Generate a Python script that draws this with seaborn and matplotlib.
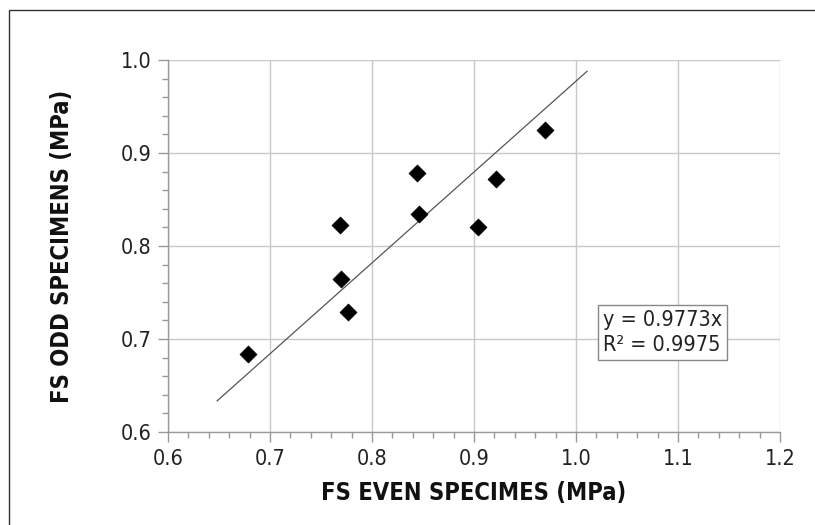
import numpy as np
import pandas as pd
import matplotlib
matplotlib.use('Agg')
import matplotlib.pyplot as plt
from matplotlib.patches import Rectangle
from matplotlib.ticker import MultipleLocator
import seaborn as sns

# values
fs_even = [0.678, 0.769, 0.770, 0.776, 0.844, 0.846, 0.904, 0.922, 0.970]
fs_odd = [0.684, 0.823, 0.765, 0.729, 0.879, 0.834, 0.820, 0.872, 0.925]
trend_slope = 0.9773
trend_r2 = 0.9975
trend_x = [0.648, 1.011]
x_ticks = [0.6, 0.7, 0.8, 0.9, 1.0, 1.1, 1.2]
y_ticks = [0.6, 0.7, 0.8, 0.9, 1.0]

df = pd.DataFrame({'even': fs_even, 'odd': fs_odd})

sns.set_style('white')
plt.rcParams['font.family'] = ['DejaVu Sans']
plt.rcParams['font.stretch'] = 'condensed'

fig = plt.figure(figsize=(8.15, 5.25), dpi=100)
ax = fig.add_axes([168 / 815, 1 - 432 / 525, (780 - 168) / 815, (432 - 60) / 525])

# outer frame of the picture
fig.patches.append(Rectangle((9 / 815, -0.1), 1.2, 1 - 10 / 525 + 0.1, transform=fig.transFigure,
                             fill=False, edgecolor='#333333', linewidth=1.0))

grid_col = '#c8c8c8'
for xv in x_ticks:
    ax.axvline(xv, color=grid_col, linewidth=1.0, zorder=0)
for yv in y_ticks:
    ax.axhline(yv, color=grid_col, linewidth=1.0, zorder=0)

# trendline through the origin
tx = np.array(trend_x)
ax.plot(tx, trend_slope * tx, color='#555555', linewidth=0.9, zorder=2)

sns.scatterplot(data=df, x='even', y='odd', marker='D', color='black', s=75,
                edgecolor='black', linewidth=0.5, ax=ax, zorder=3)

ax.set_xlim(0.6, 1.2)
ax.set_ylim(0.6, 1.0)
ax.set_xticks(x_ticks)
ax.set_yticks(y_ticks)
ax.set_xticklabels([f'{v:.1f}' for v in x_ticks])
ax.set_yticklabels([f'{v:.1f}' for v in y_ticks])
ax.xaxis.set_minor_locator(MultipleLocator(0.02))
ax.yaxis.set_minor_locator(MultipleLocator(0.02))
ax.tick_params(axis='both', which='major', direction='out', length=7, width=1,
               color='#999999', labelsize=15.5, labelcolor='#222222', pad=5)
ax.tick_params(axis='both', which='minor', direction='out', length=4, width=1, color='#999999')
ax.tick_params(bottom=True, left=True, which='both')

for side in ['top', 'right']:
    ax.spines[side].set_visible(False)
for side in ['left', 'bottom']:
    ax.spines[side].set_color('#999999')
    ax.spines[side].set_linewidth(1.0)

ax.set_xlabel('FS EVEN SPECIMES (MPa)', fontsize=17, fontweight='bold', color='#111111')
ax.set_ylabel('FS ODD SPECIMENS (MPa)', fontsize=17, fontweight='bold', color='#111111')
ax.xaxis.set_label_coords(0.5, -(493 - 432) / 372, transform=ax.transAxes)
ax.yaxis.set_label_coords(-(168 - 62) / 612, 0.5, transform=ax.transAxes)
ax.xaxis.label.set_va('center')
ax.yaxis.label.set_va('center')

ax.text(1.026, 0.707, f'y = {trend_slope}x\nR² = {trend_r2}', fontsize=15.5, color='#222222',
        va='center', ha='left', linespacing=1.3, zorder=4,
        bbox=dict(boxstyle='square,pad=0.22', facecolor='white', edgecolor='#888888', linewidth=1))

fig.savefig('out.png', dpi=100)
